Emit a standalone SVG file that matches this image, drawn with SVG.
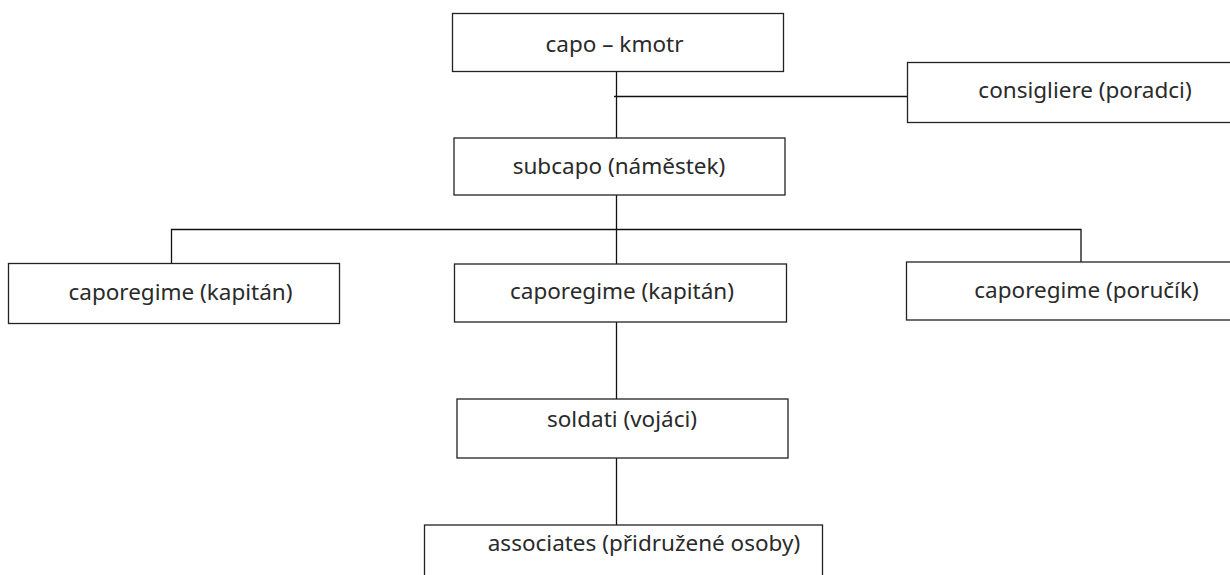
<svg xmlns="http://www.w3.org/2000/svg" width="1230" height="575" viewBox="0 0 1230 575">
<style>
.box{fill:#fff;stroke:#222;stroke-width:1.3}
.lbl{font-family:"Noto Sans","Open Sans","DejaVu Sans",sans-serif;font-size:22.5px;fill:#2a2a2a;text-anchor:middle}
.con{stroke:#111;stroke-width:1.3;fill:none}
</style>
<rect width="1230" height="575" fill="#fff"/>
<g id="connectors">
<line class="con" x1="616.5" y1="71" x2="616.5" y2="138"/>
<line class="con" x1="614" y1="96.5" x2="908" y2="96.5"/>
<line class="con" x1="616.5" y1="195" x2="616.5" y2="229"/>
<polyline class="con" points="171.5,263 171.5,229.5 1081,229.5 1081,262"/>
<line class="con" x1="616.5" y1="229" x2="616.5" y2="264"/>
<line class="con" x1="616.5" y1="322" x2="616.5" y2="399"/>
<line class="con" x1="616.5" y1="458" x2="616.5" y2="525"/>
</g>
<g id="capo"><rect class="box" x="452.5" y="13.5" width="331" height="58"/><text class="lbl" x="614.5" y="52">capo – kmotr</text></g>
<g id="consigliere"><rect class="box" x="907.5" y="62.5" width="330" height="60"/><text class="lbl" x="1085" y="98">consigliere (poradci)</text></g>
<g id="subcapo"><rect class="box" x="454" y="138" width="331" height="57"/><text class="lbl" x="619" y="174">subcapo (náměstek)</text></g>
<g id="caporegime1"><rect class="box" x="8.5" y="263.5" width="331" height="60"/><text class="lbl" x="180.5" y="300">caporegime (kapitán)</text></g>
<g id="caporegime2"><rect class="box" x="454.5" y="264" width="332" height="58"/><text class="lbl" x="622" y="299">caporegime (kapitán)</text></g>
<g id="caporegime3"><rect class="box" x="906.5" y="262" width="330" height="58"/><text class="lbl" x="1086.5" y="298">caporegime (poručík)</text></g>
<g id="soldati"><rect class="box" x="457" y="399" width="331" height="59"/><text class="lbl" x="622" y="427">soldati (vojáci)</text></g>
<g id="associates"><rect class="box" x="424.5" y="525" width="398" height="60"/><text class="lbl" x="644" y="551">associates (přidružené osoby)</text></g>
</svg>
